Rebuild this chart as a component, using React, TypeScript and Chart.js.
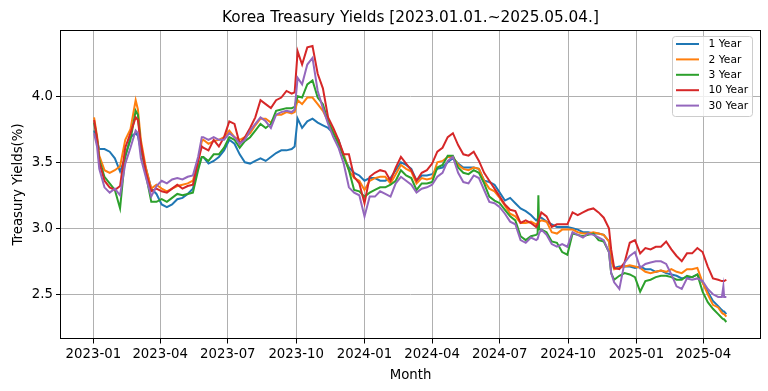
import React, { useEffect, useRef } from 'react';
import { Chart, registerables } from 'chart.js';

Chart.register(...registerables);

// Day offsets from 2023-01-01
const days = [
  1, 5, 8, 15, 22, 29, 36, 43, 50, 57, 60, 64, 71, 78, 85, 92, 99, 106, 113, 120,
  127, 134, 141, 146, 148, 155, 162, 169, 176, 183, 190, 197, 204, 211, 218, 225, 232, 239, 246, 253,
  260, 267, 271, 275, 281, 288, 295, 302, 309, 316, 323, 330, 337, 344, 351, 358, 365, 372, 379, 386,
  393, 400, 407, 414, 421, 428, 435, 442, 449, 456, 463, 470, 477, 484, 491, 498, 505, 512, 519, 526,
  533, 540, 547, 554, 561, 568, 575, 582, 589, 596, 598, 599, 600, 603, 610, 617, 624, 631, 638, 645,
  652, 659, 666, 673, 680, 687, 694, 697, 701, 708, 715, 722, 729, 736, 743, 750, 757, 764, 771, 778,
  785, 792, 799, 806, 813, 820, 827, 834, 841, 846, 848, 849, 852,
];

const year1 = [
  3.74, 3.66, 3.60, 3.60, 3.58, 3.53, 3.43, 3.54, 3.69, 3.72, 3.70, 3.59, 3.45, 3.30, 3.26, 3.18, 3.16, 3.18, 3.22, 3.23,
  3.26, 3.30, 3.47, 3.54, 3.54, 3.49, 3.51, 3.54, 3.59, 3.67, 3.64, 3.56, 3.50, 3.49, 3.51, 3.53, 3.51, 3.54, 3.57, 3.59,
  3.59, 3.60, 3.62, 3.83, 3.76, 3.81, 3.83, 3.80, 3.78, 3.76, 3.72, 3.67, 3.54, 3.46, 3.42, 3.40, 3.36, 3.38, 3.38, 3.36,
  3.36, 3.38, 3.44, 3.50, 3.48, 3.45, 3.36, 3.40, 3.40, 3.41, 3.45, 3.46, 3.50, 3.53, 3.49, 3.46, 3.46, 3.46, 3.45, 3.36,
  3.35, 3.33, 3.27, 3.21, 3.23, 3.19, 3.15, 3.13, 3.10, 3.06, 3.07, 3.08, 3.08, 3.08, 3.05, 3.03, 3.01, 3.01, 3.01, 3.00,
  2.99, 2.97, 2.97, 2.96, 2.96, 2.95, 2.90, 2.76, 2.70, 2.71, 2.71, 2.71, 2.70, 2.71, 2.69, 2.69, 2.67, 2.68, 2.66, 2.65,
  2.64, 2.62, 2.63, 2.63, 2.65, 2.59, 2.52, 2.45, 2.41, 2.38, 2.37, 2.37, 2.35,
];

const year2 = [
  3.84, 3.70, 3.55, 3.44, 3.42, 3.44, 3.47, 3.67, 3.75, 3.97, 3.90, 3.67, 3.45, 3.30, 3.33, 3.30, 3.28, 3.30, 3.32, 3.33,
  3.34, 3.36, 3.50, 3.66, 3.67, 3.64, 3.66, 3.67, 3.69, 3.74, 3.69, 3.67, 3.69, 3.72, 3.78, 3.83, 3.83, 3.80, 3.86, 3.86,
  3.88, 3.87, 3.88, 3.97, 3.94, 3.99, 3.99, 3.94, 3.89, 3.81, 3.74, 3.64, 3.56, 3.44, 3.38, 3.36, 3.29, 3.36, 3.38, 3.39,
  3.39, 3.34, 3.41, 3.48, 3.45, 3.43, 3.34, 3.38, 3.37, 3.38, 3.50, 3.51, 3.54, 3.54, 3.48, 3.45, 3.44, 3.46, 3.45, 3.36,
  3.30, 3.28, 3.23, 3.17, 3.11, 3.09, 3.04, 3.04, 3.05, 3.03, 3.04, 3.05, 3.05, 3.06, 3.05, 2.97, 2.96, 2.99, 2.99, 2.99,
  2.97, 2.96, 2.96, 2.97, 2.96, 2.95, 2.90, 2.76, 2.69, 2.70, 2.71, 2.72, 2.71, 2.70, 2.67, 2.66, 2.67, 2.68, 2.67, 2.69,
  2.67, 2.66, 2.69, 2.69, 2.70, 2.59, 2.50, 2.42, 2.40, 2.36, 2.35, 2.35, 2.33,
];

const year3 = [
  3.80, 3.68, 3.52, 3.39, 3.34, 3.29, 3.15, 3.55, 3.67, 3.89, 3.86, 3.62, 3.40, 3.20, 3.20, 3.22, 3.20, 3.23, 3.26, 3.25,
  3.26, 3.27, 3.44, 3.54, 3.54, 3.51, 3.56, 3.56, 3.61, 3.69, 3.67, 3.61, 3.66, 3.69, 3.74, 3.79, 3.76, 3.79, 3.89, 3.90,
  3.91, 3.91, 3.92, 4.00, 3.99, 4.09, 4.12, 3.99, 3.94, 3.81, 3.72, 3.64, 3.54, 3.44, 3.29, 3.28, 3.24, 3.27, 3.29, 3.31,
  3.31, 3.33, 3.36, 3.44, 3.40, 3.38, 3.29, 3.34, 3.34, 3.35, 3.46, 3.48, 3.55, 3.55, 3.46, 3.42, 3.41, 3.44, 3.42, 3.34,
  3.24, 3.21, 3.19, 3.14, 3.09, 3.06, 2.94, 2.91, 2.94, 2.95, 2.96, 3.25, 2.99, 2.99, 2.97, 2.90, 2.89, 2.82, 2.80, 2.96,
  2.95, 2.94, 2.95, 2.96, 2.91, 2.90, 2.82, 2.66, 2.61, 2.64, 2.66, 2.65, 2.63, 2.52, 2.60, 2.61, 2.63, 2.64, 2.64, 2.63,
  2.61, 2.61, 2.64, 2.63, 2.65, 2.52, 2.44, 2.39, 2.35, 2.32, 2.31, 2.31, 2.29,
];

const year10 = [
  3.82, 3.68, 3.50, 3.36, 3.31, 3.29, 3.32, 3.61, 3.72, 3.84, 3.82, 3.64, 3.42, 3.28, 3.30, 3.28, 3.27, 3.30, 3.33, 3.30,
  3.32, 3.33, 3.51, 3.62, 3.61, 3.59, 3.67, 3.62, 3.69, 3.81, 3.79, 3.64, 3.69, 3.76, 3.84, 3.97, 3.94, 3.91, 3.97, 3.99,
  4.04, 4.02, 4.03, 4.34, 4.24, 4.37, 4.38, 4.17, 4.06, 3.84, 3.76, 3.67, 3.56, 3.56, 3.39, 3.34, 3.19, 3.39, 3.42, 3.44,
  3.43, 3.36, 3.46, 3.54, 3.49, 3.44, 3.36, 3.42, 3.44, 3.49, 3.58, 3.61, 3.69, 3.72, 3.63, 3.56, 3.55, 3.58, 3.51, 3.42,
  3.36, 3.30, 3.24, 3.18, 3.14, 3.13, 3.04, 3.06, 3.04, 3.01, 3.03, 3.05, 3.07, 3.12, 3.09, 3.01, 3.03, 3.03, 3.03, 3.12,
  3.10, 3.12, 3.14, 3.15, 3.12, 3.08, 3.00, 2.84, 2.70, 2.69, 2.74, 2.89, 2.91, 2.81, 2.85, 2.84, 2.86, 2.86, 2.90, 2.84,
  2.79, 2.75, 2.81, 2.81, 2.85, 2.82, 2.71, 2.62, 2.61, 2.60, 2.60, 2.60, 2.61,
];

const year30 = [
  3.72, 3.62, 3.45, 3.31, 3.27, 3.30, 3.25, 3.49, 3.61, 3.74, 3.72, 3.53, 3.38, 3.24, 3.32, 3.36, 3.34, 3.37, 3.38, 3.37,
  3.39, 3.40, 3.54, 3.69, 3.69, 3.67, 3.69, 3.67, 3.67, 3.72, 3.69, 3.64, 3.67, 3.74, 3.79, 3.84, 3.81, 3.76, 3.86, 3.88,
  3.89, 3.88, 3.90, 4.14, 4.09, 4.24, 4.29, 4.04, 3.91, 3.79, 3.69, 3.61, 3.49, 3.31, 3.27, 3.25, 3.09, 3.24, 3.24, 3.28,
  3.26, 3.24, 3.34, 3.39, 3.36, 3.33, 3.27, 3.30, 3.31, 3.33, 3.39, 3.42, 3.51, 3.54, 3.42, 3.35, 3.34, 3.40, 3.38, 3.29,
  3.20, 3.19, 3.16, 3.11, 3.05, 3.03, 2.91, 2.89, 2.93, 2.91, 2.92, 2.94, 2.96, 2.99, 2.95, 2.88, 2.86, 2.88, 2.86, 2.97,
  2.95, 2.93, 2.96, 2.95, 2.93, 2.91, 2.82, 2.66, 2.59, 2.54, 2.74, 2.79, 2.82, 2.70, 2.73, 2.74, 2.75, 2.75, 2.73, 2.65,
  2.56, 2.54, 2.62, 2.61, 2.62, 2.60, 2.54, 2.50, 2.48, 2.48, 2.56, 2.48, 2.48,
];

const seriesNames = ['1 Year', '2 Year', '3 Year', '10 Year', '30 Year'];
const seriesColors = ['#1f77b4', '#ff7f0e', '#2ca02c', '#d62728', '#9467bd'];
const xTickDays = [0, 90, 181, 273, 365, 456, 547, 639, 731, 821];
const xTickLabels = ['2023-01', '2023-04', '2023-07', '2023-10', '2024-01', '2024-04', '2024-07', '2024-10', '2025-01', '2025-04'];
const yTickValues = [2.5, 3.0, 3.5, 4.0];
const titleText = 'Korea Treasury Yields [2023.01.01.~2025.05.04.]';
const xTitle = 'Month';
const yTitle = 'Treasury Yields(%)';

const FONT = '"DejaVu Sans", "Liberation Sans", sans-serif';

const decorPlugin = {
  id: 'decor',
  afterDraw(chart: any) {
    const ctx = chart.ctx as CanvasRenderingContext2D;
    const a = chart.chartArea;
    ctx.save();
    // frame
    ctx.strokeStyle = '#000';
    ctx.lineWidth = 1;
    ctx.strokeRect(60.5, 30.5, 700, 308);
    // title
    ctx.fillStyle = '#000';
    ctx.font = `15.3px ${FONT}`;
    ctx.textAlign = 'center';
    ctx.textBaseline = 'alphabetic';
    ctx.fillText(titleText, (a.left + a.right) / 2, 22);
    // x title
    ctx.font = `13.3px ${FONT}`;
    ctx.fillText(xTitle, (a.left + a.right) / 2, 379);
    // y title
    ctx.save();
    ctx.translate(22, (a.top + a.bottom) / 2);
    ctx.rotate(-Math.PI / 2);
    ctx.fillText(yTitle, 0, 0);
    ctx.restore();
    // legend
    const lx = 672.5, ly = 36.5, lw = 80, lh = 80, r = 3;
    ctx.beginPath();
    ctx.moveTo(lx + r, ly);
    ctx.lineTo(lx + lw - r, ly);
    ctx.arcTo(lx + lw, ly, lx + lw, ly + r, r);
    ctx.lineTo(lx + lw, ly + lh - r);
    ctx.arcTo(lx + lw, ly + lh, lx + lw - r, ly + lh, r);
    ctx.lineTo(lx + r, ly + lh);
    ctx.arcTo(lx, ly + lh, lx, ly + lh - r, r);
    ctx.lineTo(lx, ly + r);
    ctx.arcTo(lx, ly, lx + r, ly, r);
    ctx.closePath();
    ctx.fillStyle = 'rgba(255,255,255,0.8)';
    ctx.fill();
    ctx.strokeStyle = '#cccccc';
    ctx.lineWidth = 1;
    ctx.stroke();
    ctx.font = `10.7px ${FONT}`;
    ctx.textAlign = 'left';
    ctx.textBaseline = 'middle';
    seriesNames.forEach((name, i) => {
      const cy = 44 + i * 15.4;
      ctx.strokeStyle = seriesColors[i];
      ctx.lineWidth = 2;
      ctx.beginPath();
      ctx.moveTo(676, cy);
      ctx.lineTo(699, cy);
      ctx.stroke();
      ctx.fillStyle = '#000';
      ctx.fillText(name, 708.5, cy + 0.5);
    });
    ctx.restore();
  },
};

export default function App() {
  const ref = useRef<HTMLCanvasElement | null>(null);
  useEffect(() => {
    if (!ref.current) return;
    const seriesValues = [year1, year2, year3, year10, year30];
    const chart = new Chart(ref.current, {
      type: 'line',
      data: {
        datasets: seriesValues.map((vals, i) => ({
          label: seriesNames[i],
          data: days.map((d, j) => ({ x: d, y: vals[j] })),
          borderColor: seriesColors[i],
          backgroundColor: seriesColors[i],
          borderWidth: 2,
          pointRadius: 0,
          tension: 0,
          fill: false,
          order: 5 - i,
        })),
      },
      options: {
        animation: false,
        responsive: false,
        maintainAspectRatio: false,
        layout: { padding: { top: 30.5, right: 8, left: 0, bottom: 0 } },
        plugins: {
          legend: { display: false },
          title: { display: false },
          tooltip: { enabled: false },
        },
        scales: {
          x: {
            type: 'linear',
            min: -43.5,
            max: 897.3,
            afterFit: (s: any) => { s.height = 52.5; },
            afterBuildTicks: (s: any) => { s.ticks = xTickDays.map((v) => ({ value: v })); },
            ticks: {
              callback: (_v: any, i: number) => xTickLabels[i],
              color: '#000',
              font: { family: FONT, size: 13.3 },
              padding: 3,
              maxRotation: 0,
              autoSkip: false,
            },
            grid: { color: '#b0b0b0', lineWidth: 1, tickColor: '#000', tickLength: 5, drawTicks: true },
            border: { display: false },
          },
          y: {
            type: 'linear',
            min: 2.165,
            max: 4.498,
            afterFit: (s: any) => { s.width = 61; },
            afterBuildTicks: (s: any) => { s.ticks = yTickValues.map((v) => ({ value: v })); },
            ticks: {
              callback: (v: any) => Number(v).toFixed(1),
              color: '#000',
              font: { family: FONT, size: 13.3 },
              padding: 3,
            },
            grid: { color: '#b0b0b0', lineWidth: 1, tickColor: '#000', tickLength: 5, drawTicks: true },
            border: { display: false },
          },
        },
      },
      plugins: [decorPlugin],
    } as any);
    return () => chart.destroy();
  }, []);
  return (
    <div style={{ position: 'fixed', left: 0, top: 0, width: 768, height: 391, background: '#fff' }}>
      <canvas ref={ref} width={768} height={391} style={{ display: 'block' }} />
    </div>
  );
}
